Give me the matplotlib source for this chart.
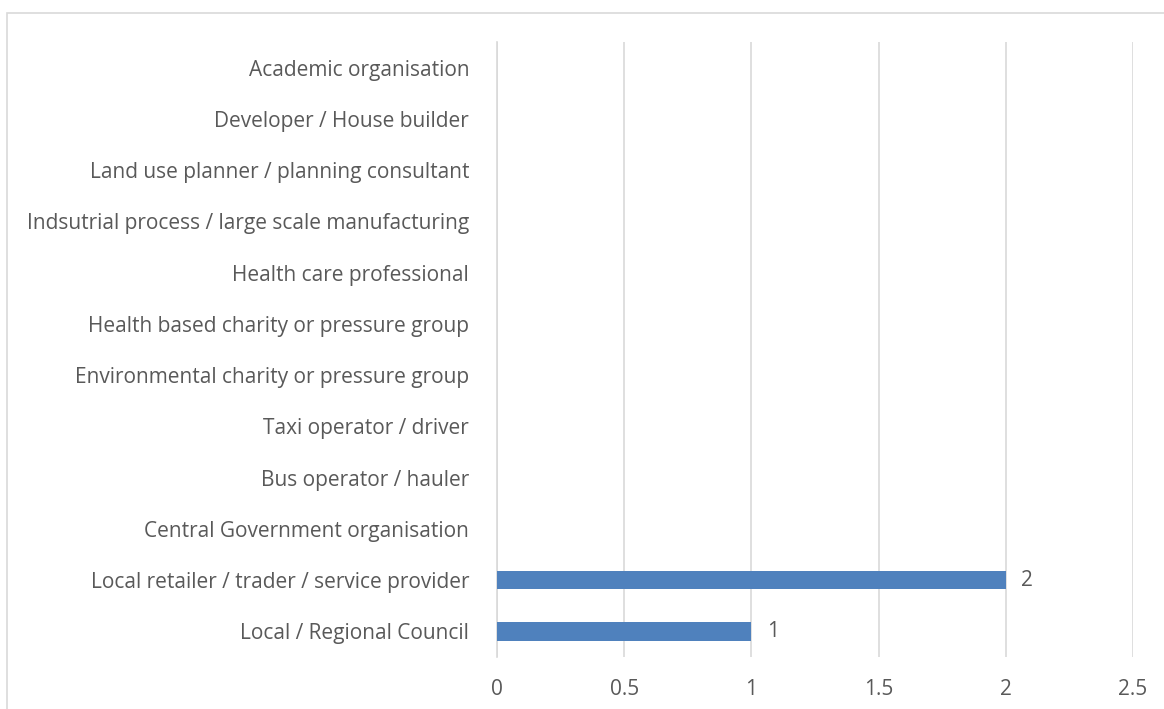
import matplotlib
matplotlib.use("Agg")
import matplotlib.pyplot as plt
from matplotlib.patches import Rectangle

# --- Data (bottom to top) ---
categories = [
    "Local / Regional Council",
    "Local retailer / trader / service provider",
    "Central Government organisation",
    "Bus operator / hauler",
    "Taxi operator / driver",
    "Environmental charity or pressure group",
    "Health based charity or pressure group",
    "Health care professional",
    "Indsutrial process / large scale manufacturing",
    "Land use planner / planning consultant",
    "Developer / House builder",
    "Academic organisation",
]
values = [1, 2, 0, 0, 0, 0, 0, 0, 0, 0, 0, 0]
x_ticks = [0, 0.5, 1, 1.5, 2, 2.5]

BAR_COLOR = "#4F81BD"
TEXT_COLOR = "#595959"
GRID_COLOR = "#D9D9D9"
FS = 15

plt.rcParams["font.family"] = ["Open Sans", "DejaVu Sans"]

W, H = 1164, 709
fig = plt.figure(figsize=(W / 100, H / 100), dpi=100)
ax = fig.add_axes([497 / W, 1 - 657 / H, (1133 - 497) / W, (657 - 42) / H])

# outer chart frame (cut off at right and bottom)
fig.patches.append(Rectangle((7 / W, -0.1), 2, 1 - 13 / H + 0.1, transform=fig.transFigure,
                             fill=False, edgecolor=GRID_COLOR, linewidth=1.2))

y_pos = list(range(len(categories)))
ax.barh(y_pos, values, height=0.36, color=BAR_COLOR, zorder=3)

for y, v in zip(y_pos, values):
    if v:
        ax.text(v + 0.06, y, str(v), va="center", ha="left", fontsize=FS, color=TEXT_COLOR)

ax.set_xlim(0, 2.5)
ax.set_ylim(-0.5, len(categories) - 0.5)
ax.set_xticks(x_ticks)
ax.set_xticklabels([f"{t:g}" for t in x_ticks])
ax.set_yticks(y_pos)
ax.set_yticklabels(categories)

ax.xaxis.grid(True, color=GRID_COLOR, linewidth=1.2, zorder=0)
ax.set_axisbelow(True)
for s in ["top", "right", "bottom"]:
    ax.spines[s].set_visible(False)
ax.spines["left"].set_color(GRID_COLOR)
ax.spines["left"].set_linewidth(1.2)

ax.tick_params(axis="both", length=0, labelsize=FS, labelcolor=TEXT_COLOR)
ax.tick_params(axis="y", pad=20)
ax.tick_params(axis="x", pad=16)

fig.savefig("out.png", dpi=100)
